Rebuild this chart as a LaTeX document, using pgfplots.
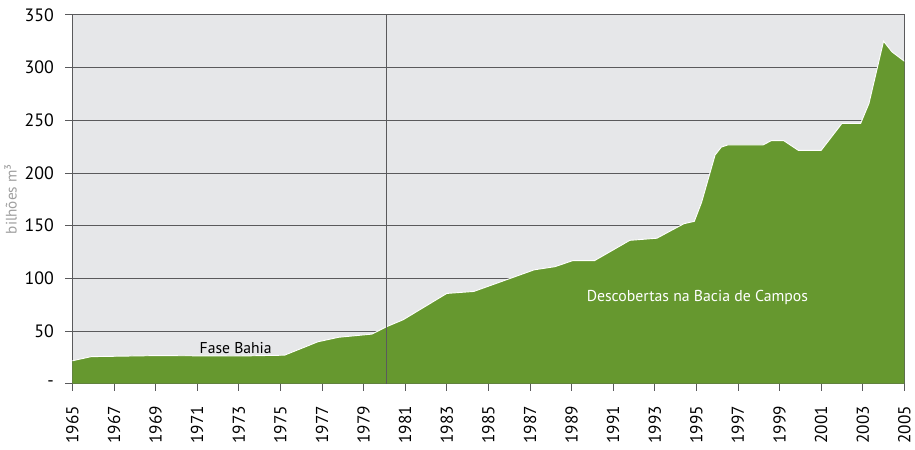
\documentclass[border=0pt]{standalone}
\usepackage{pgfplots}
\usepackage{pgfplotstable}
\pgfplotsset{compat=1.18}
\usepackage{fontspec}
\setmainfont{PT Sans}
\definecolor{bg}{HTML}{E6E7E9}
\definecolor{gr}{HTML}{66982F}
\definecolor{gridc}{HTML}{5A5A5C}
\pgfplotstableread{
x y
1965.0 21.7
1965.9 25.6
1969.0 26.6
1973.0 26.2
1975.2 27.0
1976.8 39.7
1977.8 44.0
1979.4 47.0
1980.1 54.0
1980.9 60.6
1983.0 85.6
1984.3 87.5
1987.2 108.0
1988.2 111.0
1989.05 116.7
1990.1 116.7
1991.8 136.0
1993.1 138.0
1994.4 151.8
1994.9 154.0
1995.25 172.0
1995.9 217.0
1996.2 224.5
1996.5 226.5
1998.2 226.5
1998.6 230.6
1999.2 230.6
1999.9 221.4
2001.0 221.4
2002.0 247.0
2002.9 247.0
2003.3 266.0
2004.0 325.0
2004.4 315.0
2005.0 306.0
}\datatable
\begin{document}
\begin{tikzpicture}
\begin{axis}[
  scale only axis,
  width=627.75pt, height=278.25pt,
  xmin=1965, xmax=2005, ymin=0, ymax=350,
  axis background/.style={fill=bg},
  axis line style={gridc, line width=0.6pt},
  xtick={1965,1967,...,2005},
  xticklabel style={rotate=90, anchor=east, font=\fontsize{13}{15}\selectfont, xshift=-8pt},
  xticklabel={\pgfmathprintnumber[1000 sep=]{\tick}},
  ytick={0,50,...,350},
  yticklabels={-,50,100,150,200,250,300,350},
  yticklabel style={font=\fontsize{13.5}{15}\selectfont, xshift=-5pt},
  /pgf/number format/assume math mode=true,
  tick align=outside,
  major tick length=5.5pt,
  tick style={gridc, line width=0.6pt},
  xtick pos=bottom, ytick pos=left,
  ymajorgrids, grid style={gridc, line width=0.6pt},
  ylabel={bilhões m³},
  ylabel style={font=\fontsize{11.5}{13}\selectfont, color=gray!75, yshift=-1pt},
  clip=true,
]
\addplot[draw=none, fill=gr] table[x=x,y=y]{\datatable} \closedcycle;
\addplot[white, line width=0.7pt] table[x=x,y=y]{\datatable};
\addplot[gridc, line width=0.6pt] coordinates {(1980.1,0) (1980.1,350)};
\node[font=\fontsize{11.8}{13}\selectfont, black] at (axis cs:1972.85,34) {Fase Bahia};
\node[font=\fontsize{11.9}{13}\selectfont, white] at (axis cs:1995.05,82) {Descobertas na Bacia de Campos};
\end{axis}
\path (current bounding box.north) ++(0,3pt);
\path (current bounding box.south) ++(0,-1pt);
\end{tikzpicture}
\end{document}
